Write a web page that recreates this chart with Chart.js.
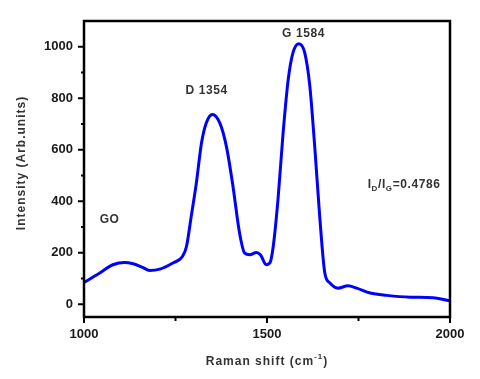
<!DOCTYPE html>
<html>
<head>
<meta charset="utf-8">
<script src="https://cdn.jsdelivr.net/npm/chart.js@4.4.1/dist/chart.umd.min.js"></script>
<style>
  html, body { margin: 0; padding: 0; background: #fff; }
  #wrap { width: 480px; height: 379px; }
</style>
</head>
<body>
<div id="wrap"><canvas id="raman"></canvas></div>
<script>
// Espectro Raman del GO
const ramanShift = [1000, 1042, 1079, 1111, 1134, 1160, 1179, 1207, 1243, 1269, 1280, 1293, 1307, 1321, 1334, 1351, 1371, 1389, 1407, 1425, 1439, 1453, 1471, 1482, 1498, 1508, 1517, 1530, 1544, 1558, 1571, 1587, 1603, 1617, 1631, 1644, 1658, 1672, 1694, 1721, 1745, 1782, 1827, 1891, 1954, 1995, 2000];
const intensity  = [84, 120, 153, 162, 157, 143, 131, 136, 160, 185, 224, 341, 471, 626, 704, 737, 704, 613, 458, 276, 198, 192, 201, 192, 153, 160, 224, 406, 665, 873, 977, 1012, 977, 847, 600, 341, 121, 82, 62, 71, 62, 43, 34, 27, 25, 14, 13];
const yTickValues = [0, 200, 400, 600, 800, 1000];
const yMinorValues = [100, 300, 500, 700, 900];
const xTickValues = [1000, 1500, 2000];
const xMinorValues = [1250, 1750];

const peakLabels = [
    { text: 'GO', x: 1070, y: 330 },
    { text: 'D 1354', x: 1335, y: 830 },
    { text: 'G 1584', x: 1600, y: 1052 }
];

const points = ramanShift.map((x, i) => ({ x: x, y: intensity[i] }));
const FONT = '"Liberation Sans", Arial, sans-serif';

const framePlugin = {
    id: 'frame',
    afterDraw(chart) {
        const ctx = chart.ctx;
        const a = chart.chartArea;
        const xs = chart.scales.x, ys = chart.scales.y;
        ctx.save();
        ctx.strokeStyle = '#000';
        ctx.lineWidth = 2.5;
        ctx.strokeRect(a.left, a.top, a.right - a.left, a.bottom - a.top);

        ctx.lineWidth = 2;
        ctx.beginPath();
        yTickValues.forEach(v => {
            const p = ys.getPixelForValue(v);
            ctx.moveTo(a.left - 6, p); ctx.lineTo(a.left, p);
        });
        yMinorValues.forEach(v => {
            const p = ys.getPixelForValue(v);
            ctx.moveTo(a.left - 3, p); ctx.lineTo(a.left, p);
        });
        xTickValues.forEach(v => {
            const p = xs.getPixelForValue(v);
            ctx.moveTo(p, a.bottom); ctx.lineTo(p, a.bottom + 6);
        });
        xMinorValues.forEach(v => {
            const p = xs.getPixelForValue(v);
            ctx.moveTo(p, a.bottom); ctx.lineTo(p, a.bottom + 4);
        });
        ctx.stroke();

        // etiquetas de picos
        ctx.fillStyle = '#333';
        ctx.letterSpacing = '0.6px';
        ctx.font = 'bold 12px ' + FONT;
        ctx.textAlign = 'center';
        ctx.textBaseline = 'middle';
        peakLabels.forEach(l => {
            ctx.fillText(l.text, xs.getPixelForValue(l.x), ys.getPixelForValue(l.y));
        });

        // relacion ID/IG con subindices
        let px = xs.getPixelForValue(1775);
        const py = ys.getPixelForValue(463);
        ctx.textAlign = 'left';
        const parts = [['I', 0, 12], ['D', 4, 8], ['/I', 0, 12], ['G', 4, 8], ['=0.4786', 0, 12]];
        parts.forEach(p => {
            ctx.font = 'bold ' + p[2] + 'px ' + FONT;
            ctx.fillText(p[0], px, py + p[1]);
            px += ctx.measureText(p[0]).width;
        });

        // titulo del eje x con superindice
        ctx.letterSpacing = '1px';
        const t1 = 'Raman shift (cm', t2 = '-1', t3 = ')';
        ctx.font = 'bold 12px ' + FONT;
        const w1 = ctx.measureText(t1).width, w3 = ctx.measureText(t3).width;
        ctx.font = 'bold 8px ' + FONT;
        const w2 = ctx.measureText(t2).width;
        let tx = xs.getPixelForValue(1500) - (w1 + w2 + w3) / 2;
        const ty = 362;
        ctx.font = 'bold 12px ' + FONT;
        ctx.fillText(t1, tx, ty); tx += w1;
        ctx.font = 'bold 8px ' + FONT;
        ctx.fillText(t2, tx, ty - 5); tx += w2;
        ctx.font = 'bold 12px ' + FONT;
        ctx.fillText(t3, tx, ty);

        // titulo del eje y
        ctx.translate(22, 163);
        ctx.rotate(-Math.PI / 2);
        ctx.textAlign = 'center';
        ctx.fillText('Intensity (Arb.units)', 0, 0);
        ctx.restore();
    }
};

const tickFont = { family: FONT, size: 13, weight: 'bold' };

new Chart(document.getElementById('raman').getContext('2d'), {
    type: 'line',
    data: {
        datasets: [{
            data: points,
            borderColor: '#0000ff',
            borderWidth: 3,
            pointRadius: 0,
            fill: false,
            cubicInterpolationMode: 'monotone'
        }]
    },
    options: {
        responsive: true,
        maintainAspectRatio: false,
        animation: false,
        layout: { padding: { top: 21, right: 30, left: 0, bottom: 0 } },
        plugins: { legend: { display: false }, tooltip: { enabled: false } },
        scales: {
            x: {
                type: 'linear',
                min: 1000,
                max: 2000,
                afterFit: s => { s.height = 62; },
                afterBuildTicks: s => { s.ticks = xTickValues.map(v => ({ value: v })); },
                grid: { display: false, drawTicks: false },
                border: { display: false },
                ticks: {
                    color: '#1a1a1a',
                    padding: 10,
                    maxRotation: 0,
                    font: tickFont,
                    callback: v => String(v)
                }
            },
            y: {
                min: -50,
                max: 1100,
                afterFit: s => { s.width = 84; },
                afterBuildTicks: s => { s.ticks = yTickValues.map(v => ({ value: v })); },
                grid: { display: false, drawTicks: false },
                border: { display: false },
                ticks: {
                    color: '#1a1a1a',
                    padding: 11,
                    font: tickFont,
                    callback: v => String(v)
                }
            }
        }
    },
    plugins: [framePlugin]
});
</script>
</body>
</html>
